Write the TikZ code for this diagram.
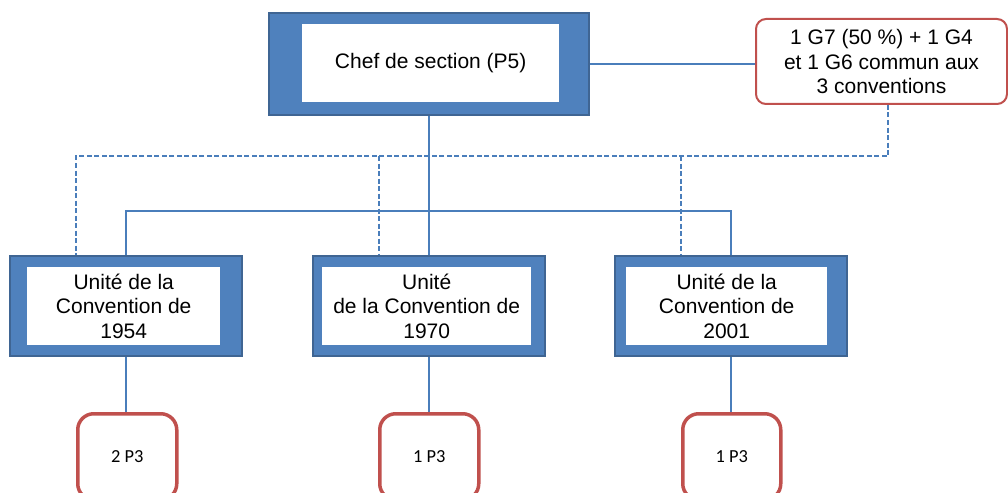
\documentclass[tikz,border=0pt]{standalone}
\usepackage{fontspec}
\setmainfont{Liberation Sans}
\newfontfamily\calib{Carlito}
\definecolor{bfill}{HTML}{4F81BD}
\definecolor{bdraw}{HTML}{3F6593}
\definecolor{lblue}{HTML}{4A7EBB}
\definecolor{rred}{HTML}{C0504D}
\begin{document}
\begin{tikzpicture}[x=1pt,y=-1pt,
  frame/.style={draw=bdraw, fill=bfill, line width=2pt, inner sep=0pt, anchor=north west, rectangle},
  innerbox/.style={fill=white, inner sep=0pt, anchor=north west, align=center, font=\fontsize{21}{24.5}\selectfont},
  notebox/.style={draw=rred, line width=2pt, fill=white, rounded corners=10pt, inner sep=0pt, anchor=north west, align=center, font=\fontsize{21}{24.5}\selectfont},
  staffbox/.style={draw=rred, line width=3.5pt, fill=white, rounded corners=16pt, inner sep=0pt, anchor=north west, align=center, font=\calib\fontsize{18.4}{22}\selectfont},
  conn/.style={draw=lblue, line width=1.8pt},
  dashconn/.style={draw=lblue, line width=1.8pt, dash pattern=on 5pt off 2.5pt}
]
\useasboundingbox (0,0) rectangle (1008,492);
\clip (0,0) rectangle (1008,492);
\fill[white] (0,0) rectangle (1008,492);

% top box
\node[frame, minimum width=320pt, minimum height=102pt] (top) at (268,12) {};
\node[innerbox, minimum width=257pt, minimum height=78pt] (topin) at (302,24) {Chef de section (P5)};

% note box
\node[notebox, minimum width=251pt, minimum height=85pt] (note) at (755,18) {1 G7 (50 \%) + 1 G4\\et 1 G6 commun aux\\3 conventions};

% units
\node[frame, minimum width=232pt, minimum height=100pt] (u1) at (9,255) {};
\node[innerbox, minimum width=193pt, minimum height=78pt] (u1in) at (27,267) {Unité de la\\Convention de\\1954};
\node[frame, minimum width=232pt, minimum height=100pt] (u2) at (312,255) {};
\node[innerbox, minimum width=209pt, minimum height=78pt] (u2in) at (322,267) {Unité\\de la Convention de\\1970};
\node[frame, minimum width=232pt, minimum height=100pt] (u3) at (614,255) {};
\node[innerbox, minimum width=201pt, minimum height=78pt] (u3in) at (626,267) {Unité de la\\Convention de\\2001};

% staff boxes
\node[staffbox, minimum width=99pt, minimum height=86pt] (b1) at (76,412) {2 P3};
\node[staffbox, minimum width=99pt, minimum height=86pt] (b2) at (378,412) {1 P3};
\node[staffbox, minimum width=98pt, minimum height=86pt] (b3) at (681,412) {1 P3};

% solid connectors
\draw[conn] (top.east) -- (top.east -| note.west);
\draw[conn] (top.south) -- (top.south |- u2.north);
\draw[conn] (u1.north) -- ++(0,-44) -| (u3.north);
\draw[conn] (u1.south) -- (u1.south |- b1.north);
\draw[conn] (u2.south) -- (u2.south |- b2.north);
\draw[conn] (u3.south) -- (u3.south |- b3.north);

% dashed connectors
\coordinate (nd) at ([xshift=6.5pt]note.south);
\coordinate (d1) at (76,156);
\coordinate (d2) at (379,156);
\coordinate (d3) at (681,156);
\draw[dashconn] (nd) |- (d1) -- (d1 |- u1.north);
\draw[dashconn] (d2) -- (d2 |- u2.north);
\draw[dashconn] (d3) -- (d3 |- u3.north);
\end{tikzpicture}
\end{document}
